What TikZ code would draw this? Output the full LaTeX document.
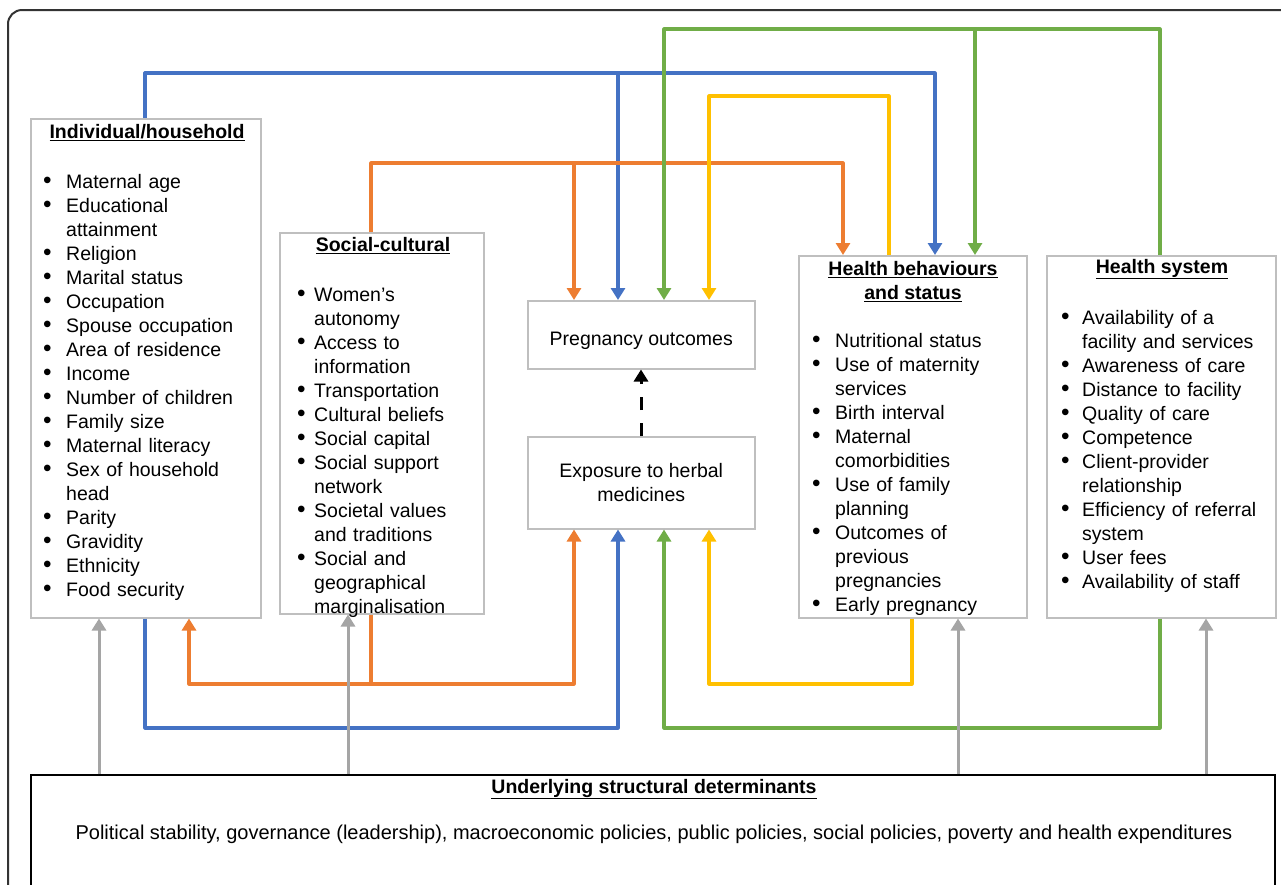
\documentclass[tikz,border=0pt]{standalone}
\usepackage{fontspec}
\setmainfont{Liberation Sans}
\usetikzlibrary{arrows.meta}

\definecolor{cblue}{HTML}{4472C4}
\definecolor{corange}{HTML}{ED7D31}
\definecolor{cgreen}{HTML}{70AD47}
\definecolor{cyellow}{HTML}{FFC000}
\definecolor{cgray}{HTML}{A5A5A5}
\definecolor{cframe}{HTML}{BFBFBF}

\newlength{\itmhang}
\newcommand{\itm}[1]{\par\hangindent=\itmhang\hangafter=1\noindent
  \makebox[\itmhang][l]{\hspace{1pt}\raisebox{-0.7pt}{\scalebox{1.25}{\textbullet}}}#1}

\tikzset{
  box/.style 2 args={draw=cframe, line width=1.5pt, anchor=north west, inner sep=0pt,
    minimum width=#1pt, minimum height=#2pt, align=center},
  ttl/.style={font=\fontsize{19.5}{24}\selectfont\bfseries, align=center, inner sep=0pt},
  lst/.style={anchor=north west, text width=240pt, align=left, inner sep=0pt,
    execute at begin node={\setlength{\itmhang}{#1}}},
  link/.style={line width=3.2pt, line join=round, -{Triangle[width=14pt,length=12pt]}},
  grlink/.style={link, cgray, line width=3pt},
}

\begin{document}
\begin{tikzpicture}[x=1pt, y=-1pt, font=\fontsize{19.5}{24}\selectfont]
\useasboundingbox (0,0) rectangle (1281,884);
\clip (0,0) rectangle (1281,884);
\draw[line width=2pt, black!80, rounded corners=14pt] (8,10) rectangle (1330,930);

% boxes
\node[box={230}{499}] (ind) at (30,118) {};
\node[box={204}{381}] (soc) at (279,232) {};
\node[box={227}{68}] (preg) at (527,300) {\raisebox{-6pt}[\height][\depth]{Pregnancy outcomes}};
\node[box={227}{92}] (expo) at (527,436) {Exposure to herbal\\medicines};
\node[box={228}{362}] (hb) at (798,255) {};
\node[box={229}{362}] (hs) at (1046,255) {};
\node[box={1244}{160}, draw=black, line width=2pt] (und) at (30,774) {};

% titles
\node[ttl] (indttl) at (147,133) {\underline{Individual/household}};
\node[ttl] (socttl) at (383,246) {\underline{Social-cultural}};
\node[ttl] (hbttl) at (913,282) {\underline{Health behaviours}\\\underline{and status}};
\node[ttl] (hsttl) at (1162,269) {\underline{Health system}};
\node[ttl] (undttl) at (654,789) {\underline{Underlying structural determinants}};
\node[font=\fontsize{20}{24}\selectfont] (undtxt) at (654,834) {Political stability, governance (leadership), macroeconomic policies, public policies, social policies, poverty and health expenditures};

% lists
\node[lst=24pt] (indlst) at (42,164) {\itm{Maternal age}
\itm{Educational\newline attainment}
\itm{Religion}
\itm{Marital status}
\itm{Occupation}
\itm{Spouse occupation}
\itm{Area of residence}
\itm{Income}
\itm{Number of children}
\itm{Family size}
\itm{Maternal literacy}
\itm{Sex of household\newline head}
\itm{Parity}
\itm{Gravidity}
\itm{Ethnicity}
\itm{Food security}\par};
\node[lst=18pt] (soclst) at (296,277) {\itm{Women’s\newline autonomy}
\itm{Access to\newline information}
\itm{Transportation}
\itm{Cultural beliefs}
\itm{Social capital}
\itm{Social support\newline network}
\itm{Societal values\newline and traditions}
\itm{Social and\newline geographical\newline marginalisation}\par};
\node[lst=24pt] (hblst) at (811,323) {\itm{Nutritional status}
\itm{Use of maternity\newline services}
\itm{Birth interval}
\itm{Maternal\newline comorbidities}
\itm{Use of family\newline planning}
\itm{Outcomes of\newline previous\newline pregnancies}
\itm{Early pregnancy}\par};
\node[lst=22pt] (hslst) at (1060,300) {\itm{Availability of a\newline facility and services}
\itm{Awareness of care}
\itm{Distance to facility}
\itm{Quality of care}
\itm{Competence}
\itm{Client-provider\newline relationship}
\itm{Efficiency of referral\newline system}
\itm{User fees}
\itm{Availability of staff}\par};

% links over the top
\draw[link, cblue] (ind.north -| 145,0) -- (145,73) -| (hb.north -| 935,0);
\draw[link, cblue] (618,73) -- (preg.north -| 618,0);
\draw[link, corange] (soc.north -| 371,0) -- (371,163) -| (hb.north -| 843,0);
\draw[link, corange] (574,163) -- (preg.north -| 574,0);
\draw[link, cgreen] (hs.north -| 1160,0) -- (1160,29) -| (preg.north -| 664,0);
\draw[link, cgreen] (975,29) -- (hb.north -| 975,0);
\draw[link, cyellow] (hb.north -| 889,0) -- (889,96) -| (preg.north -| 709,0);

% links underneath
\draw[link, cblue] (ind.south -| 145,0) -- (145,728) -| (expo.south -| 618,0);
\draw[link, corange] (soc.south -| 371,0) -- (371,684) -| (expo.south -| 574,0);
\draw[link, corange] (371,684) -| (ind.south -| 189,0);
\draw[link, cgreen] (hs.south -| 1160,0) -- (1160,728) -| (expo.south -| 664,0);
\draw[link, cyellow] (hb.south -| 912,0) -- (912,684) -| (expo.south -| 709,0);

% structural determinants
\foreach \x/\n in {99/ind, 348/soc, 958/hb, 1206/hs}{
  \draw[grlink] (und.north -| \x,0) -- (\n.south -| \x,0);
}

\draw[link, black, line width=3pt, dash pattern=on 13pt off 13pt] (expo.north -| 641,0) -- (preg.south -| 641,0);
\end{tikzpicture}
\end{document}
